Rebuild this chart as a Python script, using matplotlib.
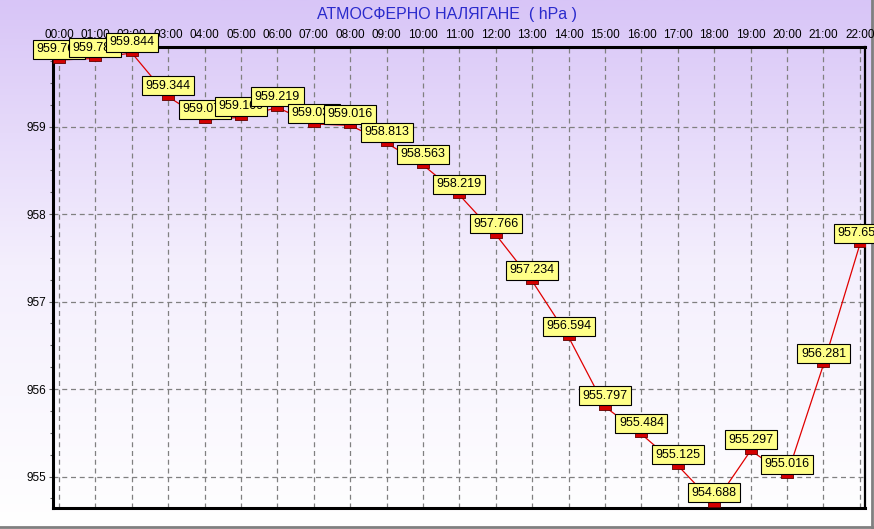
import numpy as np
import matplotlib.pyplot as plt
from matplotlib.colors import LinearSegmentedColormap
from matplotlib.ticker import MultipleLocator

plt.rcParams['font.family'] = ['Liberation Sans', 'DejaVu Sans']

hours = ['00:00', '01:00', '02:00', '03:00', '04:00', '05:00', '06:00', '07:00',
         '08:00', '09:00', '10:00', '11:00', '12:00', '13:00', '14:00', '15:00',
         '16:00', '17:00', '18:00', '19:00', '20:00', '21:00', '22:00']
pressure = [959.763, 959.781, 959.844, 959.344, 959.075, 959.109, 959.219, 959.031,
            959.016, 958.813, 958.563, 958.219, 957.766, 957.234, 956.594, 955.797,
            955.484, 955.125, 954.688, 955.297, 955.016, 956.281, 957.656]
y_ticks = [955, 956, 957, 958, 959]

fig = plt.figure(figsize=(8.74, 5.29), dpi=100)

# gradient background, lavender on top fading to white
bg = fig.add_axes([0, 0, 1, 1], zorder=-10)
cmap = LinearSegmentedColormap.from_list('bg', ['#ffffff', '#f4effd', '#d8c5f7'])
bg.imshow(np.linspace(0, 1, 256).reshape(-1, 1), aspect='auto', cmap=cmap,
          origin='lower', extent=[0, 1, 0, 1])
bg.axhline(0.003, color='#808080', lw=2)
bg.axvline(0.998, color='#808080', lw=2)
bg.set_xlim(0, 1)
bg.set_ylim(0, 1)
bg.axis('off')

ax = fig.add_axes([0.0606, 0.0397, 0.9291, 0.8715])
ax.patch.set_alpha(0)
x = np.arange(len(hours))
ax.plot(x, pressure, color='#e00000', lw=0.9, zorder=3)
box_marker = [(-1.6, -1), (1.6, -1), (1.6, 1), (-1.6, 1), (-1.6, -1)]
ax.plot(x, pressure, ls='none', marker=box_marker, ms=8, mfc='#d40000',
        mec='#600000', mew=0.6, zorder=4)

for i, v in enumerate(pressure):
    ax.annotate('%.3f' % v, (x[i], v), xytext=(0, 3.5), textcoords='offset points',
                ha='center', va='bottom', fontsize=9, zorder=5 + i,
                bbox=dict(boxstyle='square,pad=0.28', fc='#ffff88', ec='black', lw=0.8),
                annotation_clip=False)

ax.set_xlim(-0.165, 22.14)
ax.set_ylim(954.64, 959.912)
ax.set_xticks(x)
ax.set_xticklabels(hours, fontsize=8.5)
ax.xaxis.tick_top()
ax.tick_params(axis='x', length=0, pad=4)
ax.set_yticks(y_ticks)
ax.set_yticklabels([str(t) for t in y_ticks], fontsize=8.5)
ax.yaxis.set_minor_locator(MultipleLocator(0.25))
ax.tick_params(axis='y', which='major', length=3, width=0.8, color='#606060', pad=2)
ax.tick_params(axis='y', which='minor', length=2, width=0.8, color='#606060')
ax.grid(True, which='major', color='#808080', ls=(0, (4, 3)), lw=0.9)

for side in ['left', 'bottom', 'top']:
    ax.spines[side].set_linewidth(2.2)
ax.spines['right'].set_linewidth(1.6)

fig.text(0.512, 0.972, 'АТМОСФЕРНО НАЛЯГАНЕ  ( hPa )', ha='center', va='center',
         fontsize=11.5, color='#2a2acc')

plt.savefig('out.png', dpi=100)
